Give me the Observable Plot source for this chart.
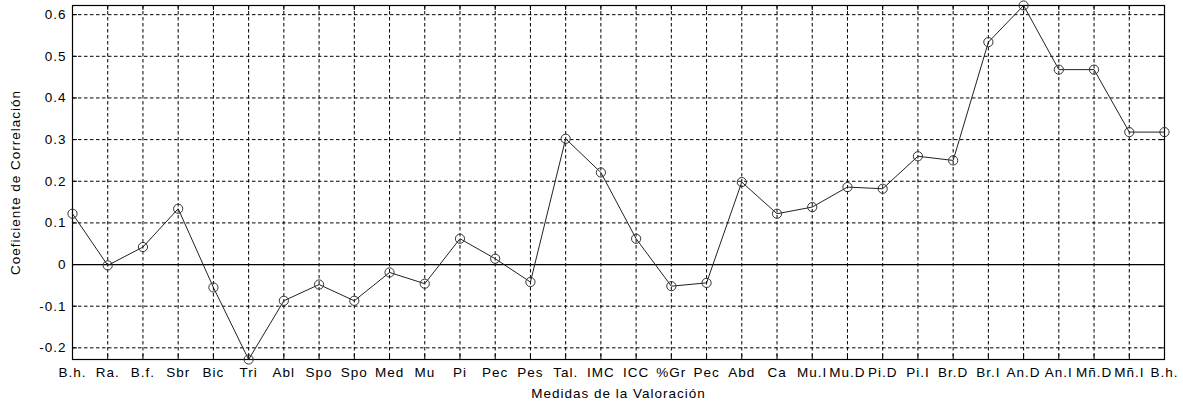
<!DOCTYPE html>
<html><head><meta charset="utf-8">
<script src="https://cdn.jsdelivr.net/npm/d3@7"></script>
<script src="https://cdn.jsdelivr.net/npm/@observablehq/plot@0.6"></script>
<style>
body{margin:0;background:#fff}
#chart svg{font-family:"Liberation Sans",Arial,sans-serif;}
</style>
</head><body><div id="chart"></div>
<script>
const labels = ["B.h.","Ra.","B.f.","Sbr","Bic","Tri","Abl","Spo","Spo","Med","Mu","Pi","Pec","Pes","Tal.","IMC","ICC","%Gr","Pec","Abd","Ca","Mu.I","Mu.D","Pi.D","Pi.I","Br.D","Br.I","An.D","An.I","Mñ.D","Mñ.I","B.h."];
const values = [0.122,-0.002,0.042,0.134,-0.055,-0.228,-0.087,-0.048,-0.087,-0.019,-0.046,0.062,0.014,-0.042,0.302,0.221,0.062,-0.052,-0.044,0.198,0.122,0.138,0.186,0.182,0.260,0.250,0.534,0.622,0.468,0.468,0.318,0.318];
const yTicks = [-0.2,-0.1,0,0.1,0.2,0.3,0.4,0.5,0.6];
const yDomain = [-0.228, 0.622];
const yLabel = "Coeficiente de Correlación";
const xLabel = "Medidas de la Valoración";

const data = labels.map((l, i) => ({i, label: l, value: values[i]}));
const xTicks = d3.range(labels.length);
const xMin = 0, xMax = labels.length - 1;
const dash = "3.5,2.5";

const chart = Plot.plot({
  width: 1183, height: 402,
  marginLeft: 72, marginRight: 19, marginTop: 5, marginBottom: 43,
  style: {fontSize: "13.5px", letterSpacing: "1px", color: "#000", background: "#fff", overflow: "visible"},
  x: {type: "linear", domain: [xMin, xMax]},
  y: {domain: yDomain},
  marks: [
    Plot.gridX(xTicks, {stroke: "#000", strokeOpacity: 1, strokeDasharray: dash}),
    Plot.gridY(yTicks, {stroke: "#000", strokeOpacity: 1, strokeDasharray: dash}),
    Plot.ruleY([0], {stroke: "#000", strokeWidth: 1.2}),
    // inward tick marks
    Plot.ruleX(xTicks, {x: d => d, y1: yDomain[0], y2: yDomain[0], insetTop: -5, stroke: "#000"}),
    Plot.ruleX(xTicks, {x: d => d, y1: yDomain[1], y2: yDomain[1], insetBottom: -5, stroke: "#000"}),
    Plot.ruleY(yTicks, {y: d => d, x1: xMin, x2: xMin, insetRight: -5, stroke: "#000"}),
    Plot.ruleY(yTicks, {y: d => d, x1: xMax, x2: xMax, insetLeft: -5, stroke: "#000"}),
    Plot.frame({stroke: "#000", strokeWidth: 1.2}),
    Plot.axisX(xTicks, {tickSize: 0, tickPadding: 8, tickFormat: i => labels[i], label: null, fill: "#000"}),
    Plot.axisY(yTicks, {tickSize: 0, tickPadding: 6, tickFormat: d => String(d), label: null, fill: "#000"}),
    Plot.line(data, {x: "i", y: "value", stroke: "#222", strokeWidth: 1}),
    Plot.dot(data, {x: "i", y: "value", r: 4.6, stroke: "#333", strokeWidth: 1, fill: "none"}),
    Plot.text([yLabel], {frameAnchor: "left", textAnchor: "middle", rotate: -90, dx: -57, fontSize: 13.5, letterSpacing: "0.9px", fill: "#000"}),
    Plot.text([xLabel], {frameAnchor: "bottom", textAnchor: "middle", dy: 29, lineAnchor: "top", fontSize: 13.5, letterSpacing: "1px", fill: "#000"})
  ]
});
document.getElementById("chart").append(chart);
</script>
</body></html>
